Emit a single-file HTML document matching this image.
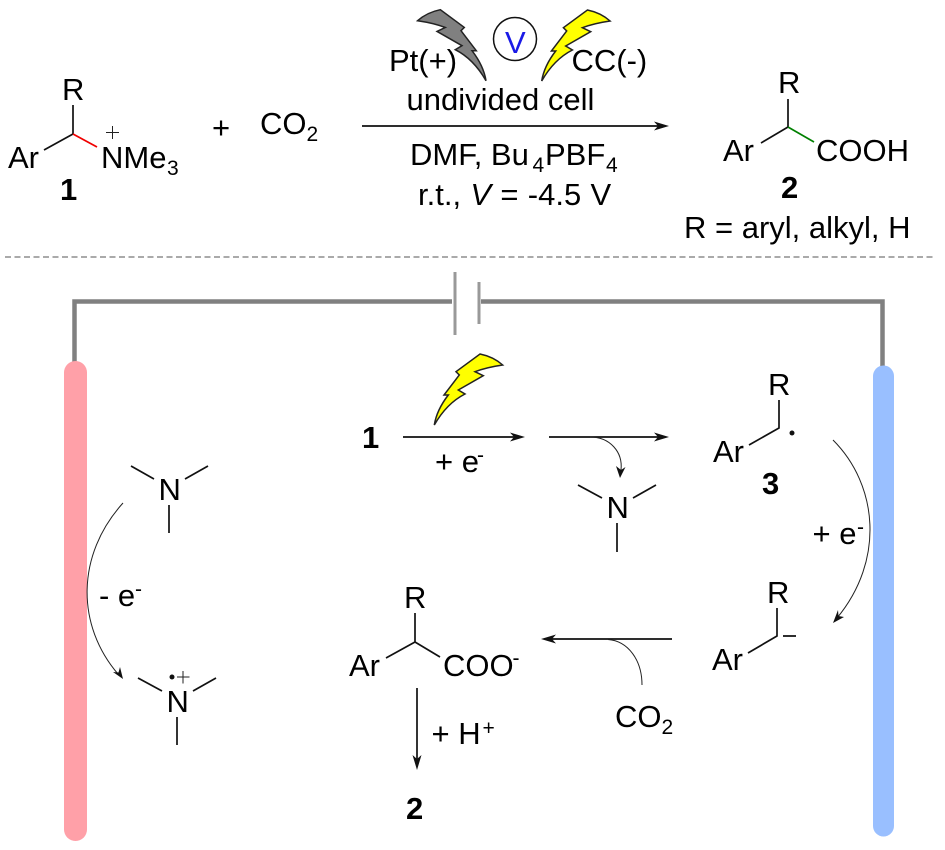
<!DOCTYPE html>
<html><head><meta charset="utf-8"><style>
html,body{margin:0;padding:0;background:#fff}
svg{display:block}
text{font-family:"Liberation Sans",Arial,sans-serif;font-size:31px;fill:#000}
.b{font-weight:bold}
.s{font-size:21px}
.l{stroke:#111;stroke-width:1.7;fill:none}
.t{stroke:#222;stroke-width:1;fill:none}
.h{fill:#111;stroke:none}
.bolt{stroke:#222;stroke-width:1.5;stroke-linejoin:miter}
</style></head><body>
<svg width="945" height="850" viewBox="0 0 945 850" xmlns="http://www.w3.org/2000/svg">
<defs>
<path id="bolt" d="M434.3,425 Q436.7,410 448.3,395 L444,395 L459.3,375 L456,371.7 L480,354 Q493.3,356.7 502.7,365 Q486.7,367.3 475,371.7 L483.3,375.7 L458.3,390 L465,394 Q446.7,403.3 434.3,425 Z"/>
</defs>

<!-- Top: compound 1 -->
<text x="62" y="100">R</text>
<text x="8" y="168">Ar</text>
<text x="101" y="168">NMe</text>
<text class="s" x="167" y="175">3</text>
<text class="b" x="60" y="200">1</text>
<path class="l" d="M73,105V134L44,150"/>
<path d="M73,134L97,147" stroke="#f00000" stroke-width="1.7" fill="none"/>
<path class="t" d="M106,132.500h13M112.500,126v13"/>
<text x="212" y="138">+</text>
<text x="260" y="134">CO</text>
<text class="s" x="306.500" y="141">2</text>

<!-- Top: conditions -->
<use href="#bolt" fill="#808080" class="bolt" transform="translate(920.300,-344.300) scale(-1,1)"/>
<use href="#bolt" fill="#ffff00" class="bolt" transform="translate(107.400,-344)"/>
<text x="389" y="71">Pt(+)</text>
<text x="571.500" y="71">CC(-)</text>
<circle cx="515" cy="39" r="21.500" fill="#fff" stroke="#111" stroke-width="1.500"/>
<text x="505" y="53" style="fill:#1a1ae6">V</text>
<text x="406.500" y="110">undivided cell</text>
<path class="l" d="M362,126H658"/>
<path class="h" d="M669,126L654,121.500L658,126L654,130.500Z"/>
<text x="410" y="165">DMF, Bu</text>
<text class="s" x="532.500" y="172">4</text>
<text x="545" y="165">PBF</text>
<text class="s" x="606" y="172">4</text>
<text x="418" y="205" style="word-spacing:0.7px">r.t., <tspan font-style="italic">V</tspan> = -4.5 V</text>

<!-- Top: compound 2 -->
<text x="778" y="93">R</text>
<text x="723" y="161">Ar</text>
<text x="816" y="161">COOH</text>
<text class="b" x="781" y="198">2</text>
<text x="684" y="238">R = aryl, alkyl, H</text>
<path class="l" d="M788,99V127L761,143"/>
<path d="M788,127L814,142" stroke="#008000" stroke-width="1.700" fill="none"/>

<!-- Divider -->
<line x1="5" y1="257" x2="935" y2="257" stroke="#777" stroke-width="1.200" stroke-dasharray="6 3.500"/>

<!-- Circuit -->
<path d="M452,301.500H74.500V362" fill="none" stroke="#808080" stroke-width="4.500"/>
<path d="M481,301.500H882.500V366" fill="none" stroke="#808080" stroke-width="4.500"/>
<path d="M455,272V335M479,282V324" stroke="#999" stroke-width="3" fill="none"/>
<rect x="64" y="361" width="23" height="480" rx="11.500" fill="#ffa0a8"/>
<rect x="873" y="365.500" width="21" height="471" rx="10.500" fill="#99bfff"/>

<!-- Mechanism centre top -->
<use href="#bolt" fill="#ffff00" class="bolt"/>
<text class="b" x="362" y="448">1</text>
<path class="l" d="M403,437H514"/>
<path class="h" d="M525,437L510,432.500L514,437L510,441.500Z"/>
<path class="l" d="M549,437H659"/>
<path class="h" d="M669,437L654,432.500L658,437L654,441.500Z"/>
<text x="435" y="472">+ e</text>
<text class="s" x="477" y="462">-</text>
<path class="t" d="M590,437C610,437 623,452 621,470"/>
<path class="h" d="M620,478L616,466L621,470L625.500,467Z"/>
<text x="606.500" y="518">N</text>
<path class="l" d="M578,485L602,498M656,485L633,498M617,523V552"/>

<!-- Left amine -->
<text x="158.500" y="500">N</text>
<path class="l" d="M131,466L154,479M208,466L185,479M169,505V533"/>
<path class="t" d="M123,503C76,555 76,625 118,674"/>
<path class="h" d="M123,679L113,672L118.500,672.500L120,667Z"/>
<text x="99" y="606">- e</text>
<text class="s" x="135" y="596">-</text>
<text x="166.500" y="712">N</text>
<path class="l" d="M138,678L162,691M216,678L193,691M177,717V745"/>
<circle cx="172" cy="677" r="2.500" fill="#111"/>
<path class="t" d="M177,677h12.500M183,671v12.500"/>

<!-- Radical 3 -->
<text x="768" y="395">R</text>
<text x="713" y="462">Ar</text>
<text class="b" x="762" y="494">3</text>
<path class="l" d="M779,400V428L749,445"/>
<circle cx="792" cy="433" r="2.500" fill="#111"/>
<path class="t" d="M833,440C878,485 885,560 837,618"/>
<path class="h" d="M833,623L838,610L838.500,616L844,617Z"/>
<text x="812.500" y="544">+ e</text>
<text class="s" x="857" y="534">-</text>

<!-- Anion -->
<text x="767" y="603">R</text>
<text x="712" y="670">Ar</text>
<path class="l" d="M777,608V636L748,653M783,636H796"/>

<!-- Carboxylate -->
<text x="404" y="608">R</text>
<text x="349" y="676">Ar</text>
<text x="443" y="676">COO</text>
<text class="s" x="512.500" y="665">-</text>
<path class="l" d="M415,613V642L386,658M415,642L440,657"/>
<path class="l" d="M672,639H552"/>
<path class="h" d="M541,639L556,634.500L552,639L556,643.500Z"/>
<path class="t" d="M608,639.500C628,641 642,660 642,685"/>
<text x="615" y="727">CO</text>
<text class="s" x="661.500" y="734">2</text>
<path class="l" d="M417,688V760"/>
<path class="h" d="M417,770L412.500,755L417,759L421.500,755Z"/>
<text x="431.500" y="744">+ H</text>
<text class="s" x="482.500" y="735">+</text>
<text class="b" x="406" y="819">2</text>
</svg>
</body></html>
